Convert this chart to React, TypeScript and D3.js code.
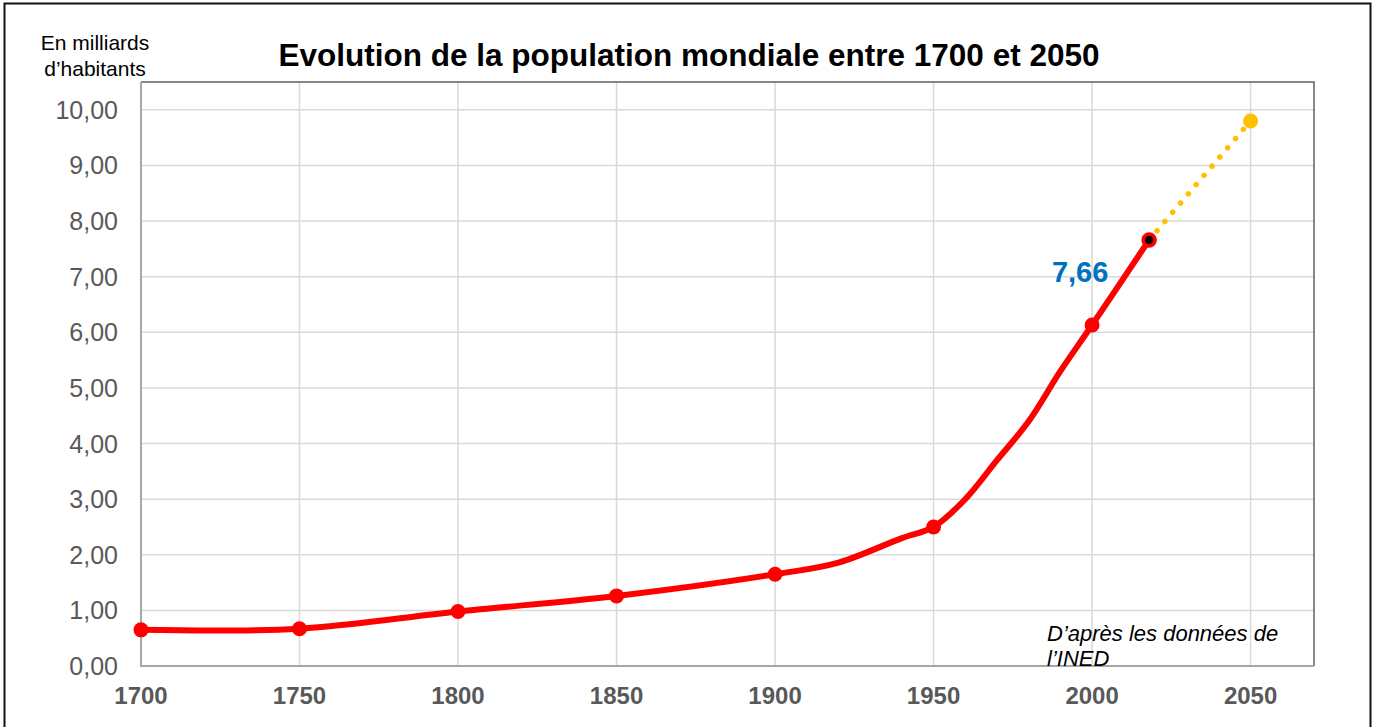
import React, { useEffect, useRef } from "react";
import * as d3 from "d3";

const years = [1700, 1750, 1800, 1850, 1900, 1920, 1940, 1950, 1960, 1970, 1980, 1990, 2000, 2018];
const population = [0.65, 0.67, 0.98, 1.26, 1.65, 1.86, 2.3, 2.5, 3.0, 3.7, 4.4, 5.3, 6.13, 7.66];
const markerYears = [1700, 1750, 1800, 1850, 1900, 1950, 2000];
const projectionYears = [2018, 2050];
const projectionValues = [7.66, 9.8];
const xTicks = [1700, 1750, 1800, 1850, 1900, 1950, 2000, 2050];
const yTicks = [0, 1, 2, 3, 4, 5, 6, 7, 8, 9, 10];

export default function App() {
  const ref = useRef<SVGSVGElement>(null);

  useEffect(() => {
    const width = 1375;
    const height = 727;
    const font = "Arial, 'Liberation Sans', sans-serif";
    const plot = { left: 141, right: 1314, top: 82, bottom: 666 };

    const svg = d3.select(ref.current);
    svg.selectAll("*").remove();
    svg.attr("width", width).attr("height", height);

    const x = d3.scaleLinear().domain([1700, 2070]).range([plot.left, plot.right]);
    const y = d3.scaleLinear().domain([0, 10.5]).range([plot.bottom, plot.top]);

    svg.append("rect").attr("width", width).attr("height", height).attr("fill", "#fff");
    // outer frame
    svg.append("rect")
      .attr("x", 4.5).attr("y", 3.5)
      .attr("width", 1366).attr("height", 740)
      .attr("fill", "none").attr("stroke", "#111").attr("stroke-width", 2);

    // grid
    svg.append("g").selectAll("line.h")
      .data(yTicks)
      .enter().append("line")
      .attr("x1", plot.left).attr("x2", plot.right)
      .attr("y1", d => y(d)).attr("y2", d => y(d))
      .attr("stroke", "#d9d9d9").attr("stroke-width", 1.5);
    svg.append("g").selectAll("line.v")
      .data(xTicks.slice(1))
      .enter().append("line")
      .attr("x1", d => x(d)).attr("x2", d => x(d))
      .attr("y1", plot.top).attr("y2", plot.bottom)
      .attr("stroke", "#d9d9d9").attr("stroke-width", 1.5);

    // plot border
    svg.append("path")
      .attr("d", `M${plot.left},${plot.top}H${plot.right}V${plot.bottom}`)
      .attr("fill", "none").attr("stroke", "#606060").attr("stroke-width", 1.5);
    svg.append("path")
      .attr("d", `M${plot.left},${plot.top}V${plot.bottom}H${plot.right}`)
      .attr("fill", "none").attr("stroke", "#a6a6a6").attr("stroke-width", 2);

    // y tick labels
    svg.append("g").selectAll("text")
      .data(yTicks)
      .enter().append("text")
      .attr("x", 118).attr("y", d => y(d)).attr("dy", "0.36em")
      .attr("text-anchor", "end")
      .style("font-family", font).style("font-size", "25px").attr("fill", "#595959")
      .text(d => d3.format(".2f")(d).replace(".", ","));

    // x tick labels
    svg.append("g").selectAll("text")
      .data(xTicks)
      .enter().append("text")
      .attr("x", d => x(d)).attr("y", 704)
      .attr("text-anchor", "middle")
      .style("font-family", font).style("font-size", "24px").style("font-weight", "bold")
      .attr("fill", "#595959")
      .text(d => d);

    // projection (dotted)
    const pts = projectionYears.map((d, i) => [d, projectionValues[i]] as [number, number]);
    svg.append("path")
      .datum(pts)
      .attr("d", d3.line<[number, number]>().x(d => x(d[0])).y(d => y(d[1])))
      .attr("fill", "none").attr("stroke", "#ffc000").attr("stroke-width", 5.5)
      .attr("stroke-linecap", "round").attr("stroke-dasharray", "0.1 12");
    svg.append("circle")
      .attr("cx", x(projectionYears[1])).attr("cy", y(projectionValues[1])).attr("r", 7.5)
      .attr("fill", "#ffc000");

    // main line
    const data = years.map((d, i) => [d, population[i]] as [number, number]);
    svg.append("path")
      .datum(data)
      .attr("d", d3.line<[number, number]>().x(d => x(d[0])).y(d => y(d[1])).curve(d3.curveCatmullRom.alpha(0.5)))
      .attr("fill", "none").attr("stroke", "#ff0000").attr("stroke-width", 6)
      .attr("stroke-linejoin", "round");

    svg.append("g").selectAll("circle")
      .data(data.filter(d => markerYears.includes(d[0])))
      .enter().append("circle")
      .attr("cx", d => x(d[0])).attr("cy", d => y(d[1])).attr("r", 7.5)
      .attr("fill", "#ff0000");

    const last = data[data.length - 1];
    svg.append("circle")
      .attr("cx", x(last[0])).attr("cy", y(last[1])).attr("r", 6)
      .attr("fill", "#000").attr("stroke", "#ff0000").attr("stroke-width", 3.5);

    svg.append("text")
      .attr("x", x(last[0]) - 69).attr("y", y(last[1]) + 42)
      .attr("text-anchor", "middle")
      .style("font-family", font).style("font-size", "29px").style("font-weight", "bold")
      .attr("fill", "#0070c0")
      .text(String(last[1]).replace(".", ","));

    // title
    svg.append("text")
      .attr("x", 689).attr("y", 66).attr("text-anchor", "middle")
      .style("font-family", font).style("font-size", "31.5px").style("font-weight", "bold")
      .attr("fill", "#000")
      .text("Evolution de la population mondiale entre 1700 et 2050");

    // y axis unit
    const unit = svg.append("text")
      .attr("text-anchor", "middle")
      .style("font-family", font).style("font-size", "21px").attr("fill", "#000");
    unit.append("tspan").attr("x", 95).attr("y", 50).text("En milliards");
    unit.append("tspan").attr("x", 95).attr("y", 76).text("d\u2019habitants");

    // source
    const src = svg.append("text")
      .style("font-family", font).style("font-size", "22px").style("font-style", "italic")
      .attr("fill", "#000");
    src.append("tspan").attr("x", 1047).attr("y", 641).text("D\u2019après les données de");
    src.append("tspan").attr("x", 1047).attr("y", 666).text("l\u2019INED");
  }, []);

  return (
    <div style={{ position: "absolute", left: 0, top: 0, width: 1375, height: 727, overflow: "hidden" }}>
      <svg ref={ref}></svg>
    </div>
  );
}
